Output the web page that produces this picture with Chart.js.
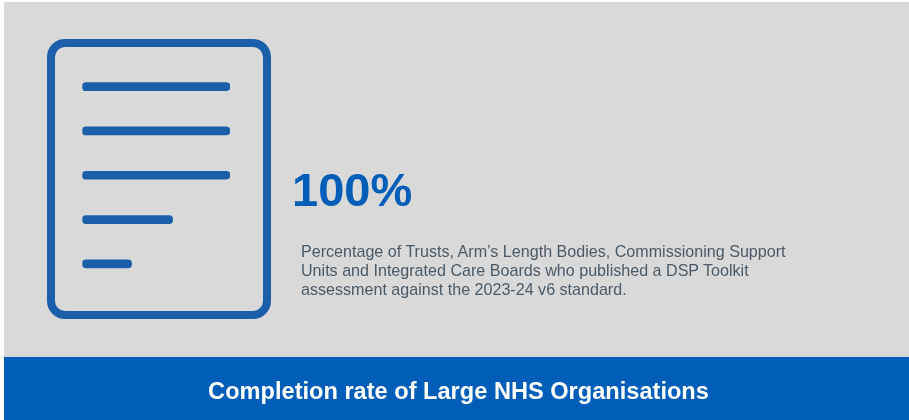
<!DOCTYPE html>
<html>
<head>
<meta charset="utf-8">
<style>
  html, body { margin: 0; padding: 0; background: #fff; }
  #page { position: relative; width: 909px; height: 420px; overflow: hidden; font-family: "Liberation Sans", Arial, sans-serif; }
  #panel { position: absolute; left: 4px; top: 2px; width: 905px; height: 355px; background: #d9d9d9; }
  #band { position: absolute; left: 4px; top: 357px; width: 905px; height: 63px; background: #005eb8; }
  #sheet { position: absolute; left: 47px; top: 38.5px; width: 208px; height: 264px; border: 8px solid #1b5faa; border-radius: 18px; }
  #chart { position: absolute; left: 0; top: 0; }
  #rate { position: absolute; left: 292px; top: 162.5px; font-size: 47px; font-weight: bold; line-height: 54px; color: #005eb8; }
  #note { position: absolute; left: 301px; top: 242px; width: 560px; font-size: 16.1px; line-height: 19px; color: #4a5a68; }
  #footer { position: absolute; left: 4px; top: 376px; width: 909px; text-align: center; font-size: 23.6px; font-weight: bold; line-height: 30px; color: #fff; }
</style>
</head>
<body>
<div id="page">
  <div id="panel"></div>
  <div id="band"></div>
  <div id="sheet"></div>
  <canvas id="chart" width="909" height="420"></canvas>
  <div id="rate"></div>
  <div id="note"></div>
  <div id="footer"></div>
</div>
<script src="https://cdn.jsdelivr.net/npm/chart.js@4/dist/chart.umd.js"></script>
<script>
// lines on the document icon, length as % of the longest line
const rows = ["a", "b", "c", "d", "e"];
const lineLengths = [100, 100, 100, 61.2, 33.4];

const rateText = "100%";
const noteLines = [
  "Percentage of Trusts, Arm’s Length Bodies, Commissioning Support",
  "Units and Integrated Care Boards who published a DSP Toolkit",
  "assessment against the 2023-24 v6 standard."
];
const footerText = "Completion rate of Large NHS Organisations";

document.querySelector("#rate").textContent = rateText;
document.querySelector("#note").innerHTML = noteLines.join("<br>");
document.querySelector("#footer").textContent = footerText;

const ctx = document.querySelector("#chart");
new Chart(ctx, {
  type: "bar",
  data: {
    labels: rows,
    datasets: [{
      data: lineLengths,
      backgroundColor: "#1b5faa",
      borderRadius: 4,
      borderSkipped: false,
      barThickness: 8
    }]
  },
  options: {
    indexAxis: "y",
    responsive: false,
    animation: false,
    layout: { padding: { left: 82.3, right: 679, top: 64.5, bottom: 134 } },
    plugins: { legend: { display: false }, tooltip: { enabled: false } },
    scales: {
      x: { display: false, min: 0, max: 100 },
      y: { display: false }
    }
  }
});
</script>
</body>
</html>
